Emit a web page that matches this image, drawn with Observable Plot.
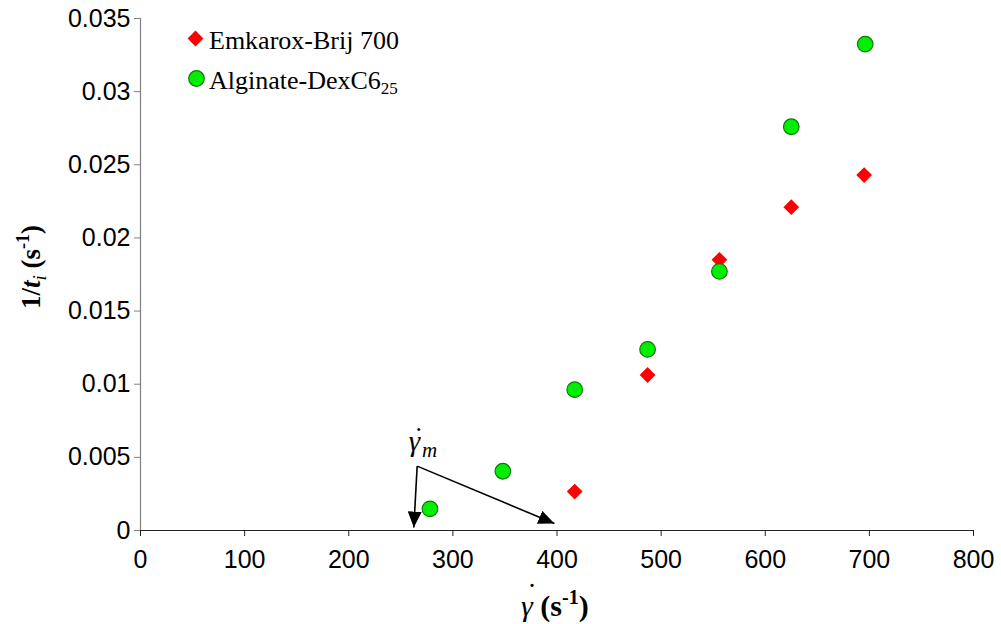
<!DOCTYPE html>
<html>
<head>
<meta charset="utf-8">
<script src="https://cdn.jsdelivr.net/npm/d3@7"></script>
<script src="https://cdn.jsdelivr.net/npm/@observablehq/plot@0.6"></script>
<style>
  html, body { margin: 0; padding: 0; background: white; }
  #chart { width: 1001px; height: 624px; }
</style>
</head>
<body>
<div id="chart"></div>
<script>
// ---- data ----
const emkName = "Emkarox-Brij 700";
const emkX = [417, 487, 556, 625, 695];
const emkY = [0.00266, 0.01063, 0.0185, 0.0221, 0.0243];

const algName = "Alginate-DexC6";
const algSub = "25";
const algX = [278, 348, 417, 487, 556, 625, 696];
const algY = [0.00148, 0.00405, 0.00963, 0.01238, 0.01771, 0.0276, 0.03325];

const xTicks = [0, 100, 200, 300, 400, 500, 600, 700, 800];
const yTicks = [0, 0.005, 0.01, 0.015, 0.02, 0.025, 0.03, 0.035];

// annotation: shear-rate marker arrows (data units)
const arrowFromX = [265.7, 265.7];
const arrowFromY = [0.0044, 0.0044];
const arrowToX = [262.5, 397.5];
const arrowToY = [0.0002, 0.00048];
const annotX = 258;
const annotY = 0.0054;

const emk = emkX.map((x, i) => ({x, y: emkY[i]}));
const alg = algX.map((x, i) => ({x, y: algY[i]}));
const arrows = arrowFromX.map((x1, i) => ({x1, y1: arrowFromY[i], x2: arrowToX[i], y2: arrowToY[i]}));

const serif = "'Liberation Serif', 'Times New Roman', serif";

const chart = Plot.plot({
  width: 1001,
  height: 624,
  marginLeft: 140,
  marginRight: 28,
  marginTop: 18,
  marginBottom: 94,
  x: {domain: [0, 800]},
  y: {domain: [0, 0.035]},
  style: {fontFamily: "'Liberation Sans', Arial, sans-serif", background: "white", color: "black"},
  marks: [
    Plot.axisX({ticks: xTicks, tickSize: 6, tickPadding: 14, fontSize: 25, label: null, stroke: "#222"}),
    Plot.axisY({ticks: yTicks, tickSize: 6, tickPadding: 4, fontSize: 25, label: null,
                tickFormat: d => String(d), stroke: "#808080"}),
    Plot.ruleX([0], {stroke: "#808080", strokeWidth: 1.2}),
    Plot.ruleY([0], {stroke: "#222", strokeWidth: 1.2}),
    Plot.link(arrows, {x1: "x1", y1: "y1", x2: "x2", y2: "y2", stroke: "black", strokeWidth: 1.6}),
    Plot.dot(emk, {x: "x", y: "y", symbol: "diamond2", r: 7.1, fill: "#ff0000"}),
    Plot.dot(alg, {x: "x", y: "y", symbol: "circle", r: 7.8, fill: "#00ee00", stroke: "#0a7a0a", strokeWidth: 1.2}),
    // legend symbols
    Plot.dot([0], {frameAnchor: "top-left", dx: 55, dy: 20, symbol: "diamond2", r: 7.1, fill: "#ff0000"}),
    Plot.dot([0], {frameAnchor: "top-left", dx: 56, dy: 60, symbol: "circle", r: 7.8, fill: "#00ee00", stroke: "#0a7a0a", strokeWidth: 1.2})
  ]
});

document.getElementById("chart").appendChild(chart);

const svg = d3.select(chart);
const sx = chart.scale("x"), sy = chart.scale("y");

// arrowheads
const defs = svg.append("defs");
defs.append("marker")
  .attr("id", "ah")
  .attr("markerUnits", "userSpaceOnUse")
  .attr("viewBox", "0 0 16 14")
  .attr("refX", 16).attr("refY", 7)
  .attr("markerWidth", 16).attr("markerHeight", 14)
  .attr("orient", "auto")
  .append("path").attr("d", "M0,0 L16,7 L0,14 Z").attr("fill", "black");
svg.selectAll('g[aria-label="link"] path').attr("marker-end", "url(#ah)");

// gamma with an overdot, inside one text element; returns x shift to restore the cursor
function dottedGamma(textSel, dotSize, dotOffset, dotRise) {
  const g = textSel.append("tspan").style("font-style", "italic").style("font-weight", "normal").text("γ");
  const gw = g.node().getComputedTextLength();
  const d = textSel.append("tspan").style("font-style", "normal").style("font-weight", "normal")
    .style("font-size", dotSize + "px").attr("dy", -dotRise).text("˙");
  const dw = d.node().getComputedTextLength();
  d.attr("dx", dotOffset - gw - dw / 2);
  return gw - dotOffset - dw / 2;
}

// annotation label
const ax = sx.apply(annotX), ay = sy.apply(annotY);
const ann = svg.append("text").attr("x", ax).attr("y", ay).attr("text-anchor", "start")
  .style("font-family", serif).style("font-size", "29px");
const back1 = dottedGamma(ann, 28, 10, 5);
ann.append("tspan").attr("dy", 11).attr("dx", back1 + 2).style("font-style", "italic").style("font-size", "21px").text("m");

// legend text
svg.append("text").attr("x", 209).attr("y", 49).attr("text-anchor", "start")
  .style("font-family", serif).style("font-size", "26px").text(emkName);
const l2 = svg.append("text").attr("x", 209).attr("y", 89).attr("text-anchor", "start")
  .style("font-family", serif).style("font-size", "26px");
l2.append("tspan").text(algName);
l2.append("tspan").attr("dy", 5).style("font-size", "17px").text(algSub);

// x axis title
const xt = svg.append("text").attr("x", 521).attr("y", 616).attr("text-anchor", "start")
  .style("font-family", serif).style("font-size", "30px");
const back2 = dottedGamma(xt, 30, 11, 12);
xt.append("tspan").style("font-weight", "bold").attr("dx", back2).attr("dy", 12).text(" (s");
xt.append("tspan").style("font-weight", "bold").style("font-size", "20px").attr("dy", -12).text("-1");
xt.append("tspan").style("font-weight", "bold").attr("dy", 12).text(")");

// y axis title
const yt = svg.append("text")
  .attr("transform", "translate(40,267) rotate(-90)")
  .attr("text-anchor", "middle")
  .style("font-family", serif).style("font-size", "27px").style("font-weight", "bold");
yt.append("tspan").text("1/");
yt.append("tspan").style("font-style", "italic").text("t");
yt.append("tspan").style("font-style", "italic").style("font-weight", "normal").style("font-size", "19px").attr("dy", 6).text("i");
yt.append("tspan").attr("dy", -6).text(" (s");
yt.append("tspan").style("font-size", "18px").attr("dy", -11).text("-1");
yt.append("tspan").attr("dy", 11).text(")");
</script>
</body>
</html>
